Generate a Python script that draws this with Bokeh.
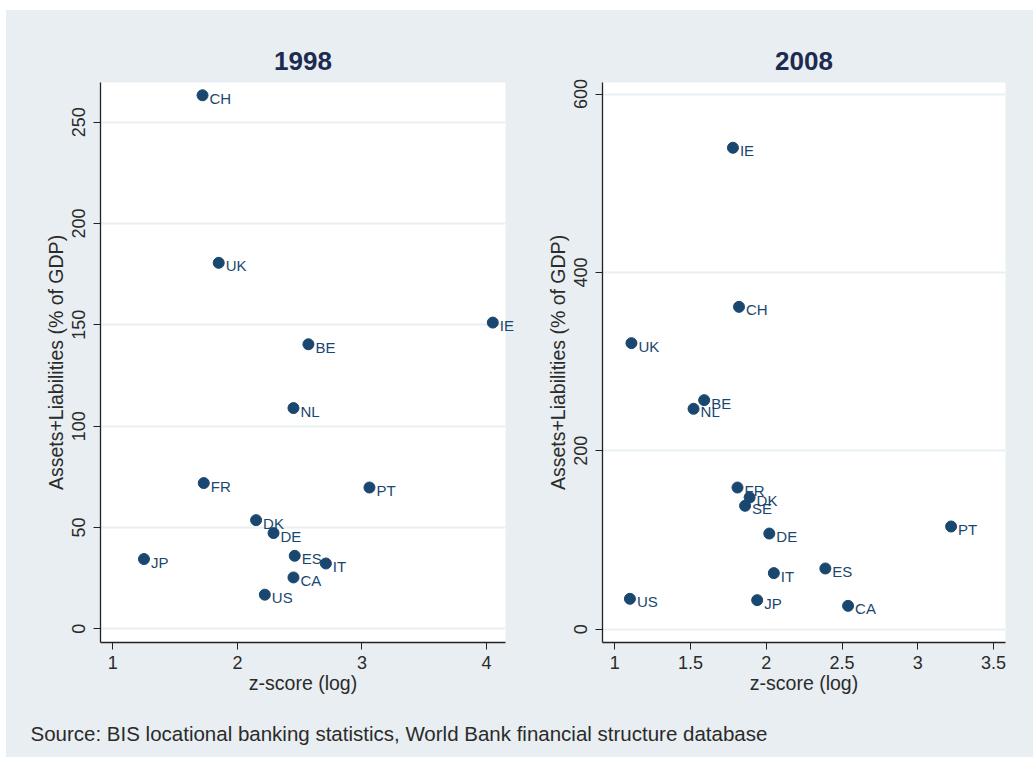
from bokeh.plotting import figure
from bokeh.layouts import column, row
from bokeh.models import Range1d, FixedTicker, NumeralTickFormatter, Label, ColumnDataSource, Spacer
from bokeh.embed import file_html
from bokeh.resources import INLINE

# ---- data ----
c1998 = ["CH", "UK", "IE", "BE", "NL", "FR", "PT", "DK", "DE", "JP", "ES", "IT", "CA", "US"]
z1998 = [1.72, 1.85, 4.05, 2.57, 2.45, 1.73, 3.06, 2.15, 2.29, 1.25, 2.46, 2.71, 2.45, 2.22]
a1998 = [263.3, 180.6, 151.1, 140.4, 108.9, 71.9, 69.7, 53.6, 47.2, 34.4, 36.0, 32.2, 25.3, 16.8]

c2008 = ["IE", "CH", "UK", "BE", "NL", "FR", "DK", "SE", "DE", "PT", "ES", "IT", "US", "JP", "CA"]
z2008 = [1.78, 1.82, 1.11, 1.59, 1.52, 1.81, 1.89, 1.86, 2.02, 3.22, 2.39, 2.05, 1.10, 1.94, 2.54]
a2008 = [539.8, 361.4, 320.7, 256.8, 247.1, 158.8, 147.6, 138.3, 107.2, 115.1, 68.0, 62.8, 34.0, 32.5, 26.1]

xticks_1998 = [1, 2, 3, 4]
yticks_1998 = [0, 50, 100, 150, 200, 250]
xticks_2008 = [1, 1.5, 2, 2.5, 3, 3.5]
yticks_2008 = [0, 200, 400, 600]

BG = "#e8eef1"
NAVY = "#1a476f"
FONT = "Liberation Sans"
TXT = "#2b2b2b"


def panel(title, countries, xs, ys, xr, yr, xt, yt, width, bl, br):
    p = figure(width=width, height=697, output_backend="svg", toolbar_location=None,
               x_range=Range1d(*xr), y_range=Range1d(*yr),
               min_border_left=bl, min_border_right=br, min_border_top=72, min_border_bottom=65,
               title=title)
    p.border_fill_color = BG
    p.background_fill_color = "white"
    p.outline_line_color = None
    p.title.align = "center"
    p.title.text_font = FONT
    p.title.text_font_size = "26px"
    p.title.text_font_style = "bold"
    p.title.text_color = "#1c2b4f"
    p.title.standoff = 26

    p.xgrid.visible = False
    p.ygrid.grid_line_color = "#e9f0f2"
    p.ygrid.grid_line_width = 2
    p.ygrid.ticker = FixedTicker(ticks=yt)

    p.xaxis.ticker = FixedTicker(ticks=xt)
    p.yaxis.ticker = FixedTicker(ticks=yt)
    p.xaxis.formatter = NumeralTickFormatter(format="0.[0]")
    p.yaxis.formatter = NumeralTickFormatter(format="0")
    for ax in (p.xaxis, p.yaxis):
        ax.axis_line_color = "#222222"
        ax.axis_line_width = 1.3
        ax.major_tick_line_color = "#222222"
        ax.major_tick_out = 7
        ax.major_tick_in = 0
        ax.minor_tick_line_color = None
        ax.major_label_text_font = FONT
        ax.major_label_text_font_size = "18px"
        ax.major_label_text_color = TXT
        ax.axis_label_text_font = FONT
        ax.axis_label_text_font_size = "19.5px"
        ax.axis_label_text_font_style = "normal"
        ax.axis_label_text_color = TXT
    p.yaxis.major_label_orientation = "vertical"
    p.xaxis.axis_label = "z-score (log)"
    p.yaxis.axis_label = "Assets+Liabilities (% of GDP)"
    p.xaxis.major_label_standoff = 6
    p.xaxis.axis_label_standoff = 0
    p.yaxis.major_label_standoff = 8
    p.yaxis.axis_label_standoff = 3

    src = ColumnDataSource(dict(x=xs, y=ys, c=countries))
    p.scatter("x", "y", source=src, size=11, fill_color=NAVY, line_color=NAVY, marker="circle")
    span = xr[1] - xr[0]
    for c, x, y in zip(countries, xs, ys):
        lab = Label(x=x, y=y, text=c, x_offset=7, y_offset=-3,
                    text_font=FONT, text_font_size="15px", text_color=NAVY,
                    text_baseline="middle", text_align="left")
        # labels that run past the plot region go in the side panel so they are not clipped
        if x > xr[1] - 0.06 * span:
            p.add_layout(lab, "right")
        else:
            p.add_layout(lab)
    return p


p1 = panel("1998", c1998, z1998, a1998, (0.901, 4.152), (-6.8, 269.6),
           xticks_1998, yticks_1998, 536, 94, 37)
p2 = panel("2008", c2008, z2008, a2008, (0.919, 3.579), (-15.0, 613.0),
           xticks_2008, yticks_2008, 491, 60, 28)

p3 = figure(width=1027, height=50, output_backend="svg", toolbar_location=None,
            x_range=Range1d(0, 1027), y_range=Range1d(0, 50),
            min_border=0, min_border_left=0, min_border_right=0, min_border_top=0, min_border_bottom=0)
p3.axis.visible = False
p3.grid.visible = False
p3.outline_line_color = None
p3.background_fill_color = BG
p3.border_fill_color = BG
p3.add_layout(Label(x=24, y=24, text="Source: BIS locational banking statistics, World Bank financial structure database",
                    text_font=FONT, text_font_size="20.5px", text_color=TXT, text_baseline="middle"))

inner = column(row(p1, p2, spacing=0, styles={"background-color": BG}), p3, spacing=0,
               styles={"background-color": BG})
layout = column(Spacer(height=10), row(Spacer(width=6), inner, spacing=0), spacing=0)
open("out.html", "w").write(file_html(layout, INLINE))
